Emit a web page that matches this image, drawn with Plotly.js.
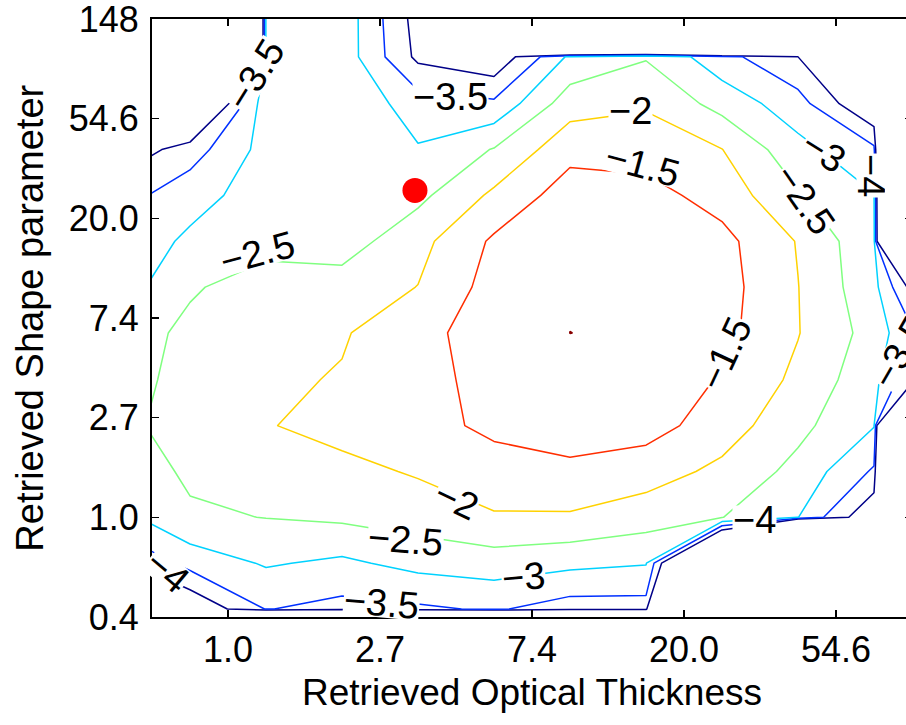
<!DOCTYPE html>
<html>
<head>
<meta charset="utf-8">
<script src="https://cdn.plot.ly/plotly-3.0.1.min.js"></script>
<style>
  html, body { margin: 0; padding: 0; overflow: hidden; background: #fff; }
  #chart { width: 920px; height: 725px; }
</style>
</head>
<body>
<div id="chart"></div>
<script>
// Grid of the retrieval (natural-log units), rows listed from top (largest shape parameter) to bottom
const lnOpticalThickness = [-0.75, -0.25, 0.25, 0.75, 1.25, 1.75, 2.25, 2.75, 3.25, 3.75, 4.25, 4.75];
const lnShapeParameter   = [5.08, 4.62, 4.15, 3.69, 3.23, 2.77, 2.31, 1.85, 1.38, 0.92, 0.46, 0.00, -0.46, -0.92, -1.38];

// log10 cost values (-30 = outside the valid region)
const costRows = [
  [-30,   -30,   -2.95, -2.67, -4.23, -30,   -30,    -30,   -30,   -30,   -30,   -30 ],
  [-30,   -30,   -2.95, -2.69, -4.12, -4.43, -2.90,  -2.54, -3.32, -3.98, -30,   -30 ],
  [-30,   -5.34, -2.71, -2.59, -3.25, -3.40, -2.22,  -2.06, -2.68, -3.29, -4.60, -30 ],
  [-4.44, -3.74, -2.81, -2.65, -2.96, -2.47, -1.66,  -1.71, -1.99, -2.84, -3.40, -30 ],
  [-3.74, -3.20, -2.75, -2.72, -2.63, -1.90, -1.25,  -1.32, -1.70, -2.45, -2.98, -30 ],
  [-3.40, -2.90, -2.62, -2.74, -2.16, -1.42, -1.12,  -1.15, -1.35, -2.03, -2.90, -30 ],
  [-3.33, -2.54, -2.34, -2.28, -1.99, -1.30, -1.03,  -1.06, -1.30, -1.99, -2.85, -5.5],
  [-2.70, -2.42, -2.20, -2.05, -1.64, -1.28, -0.999, -1.03, -1.35, -1.98, -2.70, -4.2],
  [-2.77, -2.30, -2.10, -1.96, -1.70, -1.30, -1.08,  -1.10, -1.55, -2.11, -2.85, -5.0],
  [-2.64, -2.30, -2.03, -1.83, -1.66, -1.40, -1.30,  -1.30, -1.75, -2.36, -2.98, -30 ],
  [-2.82, -2.42, -2.25, -2.14, -1.95, -1.69, -1.59,  -1.77, -2.12, -2.65, -3.57, -30 ],
  [-3.20, -2.57, -2.49, -2.41, -2.27, -2.05, -2.06,  -2.27, -2.49, -2.99, -4.50, -30 ],
  [-4.20, -3.31, -2.95, -3.10, -2.84, -2.74, -2.87,  -2.97, -8.0,  -30,   -30,   -30 ],
  [-5.00, -4.50, -3.48, -3.66, -3.58, -3.44, -3.74,  -3.72, -30,   -30,   -30,   -30 ],
  [-30,   -30,   -30,   -30,   -30,   -30,   -30,    -30,   -30,   -30,   -30,   -30 ]
];

const contourLevels = [-4, -3.5, -3, -2.5, -2, -1.5, -1];
const levelColors   = ['#000088', '#0030FF', '#00D2FF', '#80FF80', '#FFD200', '#FF2E00', '#880000'];

// true solution marker
const truthX = [1.23];
const truthY = [3.28];

// contour labels: level, ln-x, ln-y, rotation
const labelLevels = [-3.5, -3.5, -2, -1.5, -3, -2.5, -4, -1.5, -3.5, -2, -2.5, -3, -3.5, -4, -4, -2.5];
const labelX      = [0.178, 1.467, 2.651, 2.724, 3.921, 3.796, 4.23, 3.27, 4.42, 1.50, 1.171, 1.941, 1.013, -0.401, 3.467, 0.191];
const labelY      = [4.438, 4.217, 4.077, 3.535, 3.666, 3.184, 3.425, 1.639, 1.659, 0.174, -0.227, -0.598, -0.859, -0.538, -0.027, 2.652];
const labelAngle  = [-58, 0, 0, 15, 32, 55, 90, -65, -60, 25, 5, -5, 5, 40, 0, -15];

// axis ticks (ln values and their e^n labels)
const xTickVals = [0, 1, 2, 3, 4];
const xTickText = ['1.0', '2.7', '7.4', '20.0', '54.6'];
const yTickVals = [-1, 0, 1, 2, 3, 4, 5];
const yTickText = ['0.4', '1.0', '2.7', '7.4', '20.0', '54.6', '148'];

const xTitle = 'Retrieved Optical Thickness';
const yTitle = 'Retrieved Shape parameter';

const FONT = 'Liberation Sans, Arial, Helvetica, sans-serif';

// ascending y for plotly
const yAsc = lnShapeParameter.slice().reverse();
const zAsc = costRows.slice().reverse();

const traces = contourLevels.map((lev, k) => ({
  type: 'contour',
  x: lnOpticalThickness,
  y: yAsc,
  z: zAsc,
  autocontour: false,
  contours: { start: lev, end: lev, size: 1, coloring: 'none', showlabels: false },
  line: { color: levelColors[k], width: 1.5, smoothing: 0 },
  showscale: false,
  hoverinfo: 'skip'
}));

traces.push({
  type: 'scatter',
  mode: 'markers',
  x: truthX,
  y: truthY,
  marker: { color: '#FF0000', size: 25, line: { width: 0 } },
  showlegend: false,
  hoverinfo: 'skip'
});

const annotations = labelLevels.map((lev, k) => ({
  xref: 'x', yref: 'y',
  x: labelX[k], y: labelY[k],
  text: (lev < 0 ? '\u2212' : '') + String(Math.abs(lev)),
  textangle: labelAngle[k],
  showarrow: false,
  bgcolor: '#ffffff',
  borderpad: 0,
  height: 28,
  font: { family: FONT, size: 38, color: '#000' },
  xanchor: 'center', yanchor: 'middle'
}));

// axis titles
annotations.push({
  xref: 'paper', yref: 'paper', x: 0.5, y: -0.126,
  text: xTitle, showarrow: false, xanchor: 'center', yanchor: 'middle',
  font: { family: FONT, size: 37, color: '#000' }
});
annotations.push({
  xref: 'paper', yref: 'paper', x: -0.161, y: 0.5,
  text: yTitle, showarrow: false, textangle: -90, xanchor: 'center', yanchor: 'middle',
  font: { family: FONT, size: 38, color: '#000' }
});

const axisCommon = {
  showline: true, linecolor: '#000', linewidth: 2, mirror: 'ticks',
  ticks: 'inside', ticklen: 7, tickwidth: 1.5, tickcolor: '#000',
  showgrid: false, zeroline: false,
  ticklabeloverflow: 'allow',
  tickfont: { family: FONT, size: 36, color: '#000' },
  automargin: false
};

const layout = {
  width: 920, height: 725,
  margin: { l: 152, r: 8, t: 19, b: 108 },
  paper_bgcolor: '#fff', plot_bgcolor: '#fff',
  showlegend: false,
  font: { family: FONT, color: '#000' },
  annotations: annotations,
  xaxis: Object.assign({}, axisCommon, {
    range: [-0.5, 4.5],
    tickvals: xTickVals, ticktext: xTickText,
    ticklabelstandoff: 0
  }),
  yaxis: Object.assign({}, axisCommon, {
    range: [-1, 5],
    tickvals: yTickVals, ticktext: yTickText,
    ticklabelstandoff: 4
  })
};

Plotly.newPlot('chart', traces, layout, { displayModeBar: false, staticPlot: true });
</script>
</body>
</html>
